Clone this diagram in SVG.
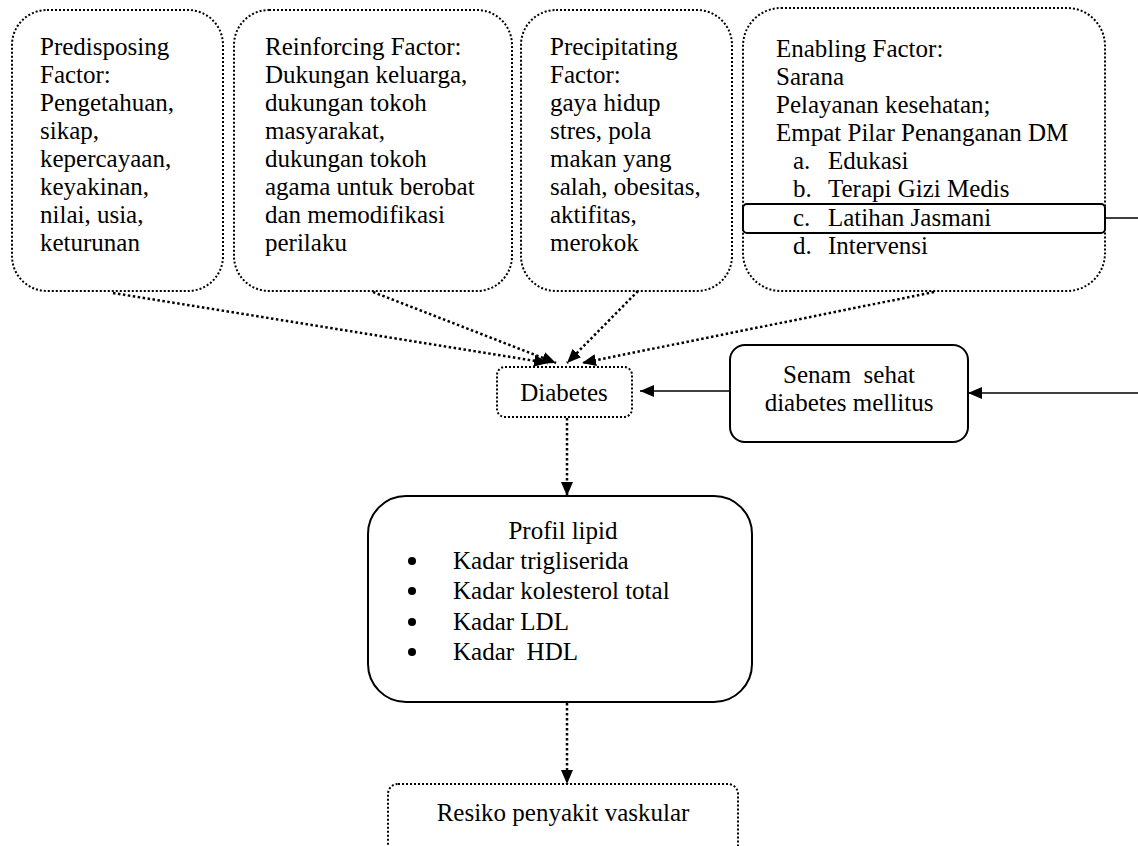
<svg xmlns="http://www.w3.org/2000/svg" width="1138" height="846" viewBox="0 0 1138 846">
  <style>
    text { font-family: "Liberation Serif", "Times New Roman", serif; font-size: 25px; fill: #000; }
    .mid { text-anchor: middle; }
    .dotted { fill: #fff; stroke: #000; stroke-width: 2; stroke-dasharray: 2 2; }
    .solid { fill: #fff; stroke: #000; stroke-width: 2; }
    .frame { fill: none; stroke: #000; stroke-width: 2; }
    .dline { fill: none; stroke: #000; stroke-width: 2.5; stroke-dasharray: 2.5 2.5; }
    .line { fill: none; stroke: #000; stroke-width: 1.5; }
  </style>
  <defs>
    <marker id="arrow" viewBox="0 0 14 12" refX="14" refY="6" markerWidth="14" markerHeight="12" markerUnits="userSpaceOnUse" orient="auto">
      <path d="M0,0 L14,6 L0,12 z" fill="#000"/>
    </marker>
    <marker id="arrowSolid" viewBox="0 0 14 12" refX="14" refY="6" markerWidth="14" markerHeight="12" markerUnits="userSpaceOnUse" orient="auto">
      <path d="M0,0 L14,6 L0,12 z" fill="#000"/>
    </marker>
  </defs>
  <rect width="1138" height="846" fill="#fff"/>

  <!-- Factor boxes -->
  <g id="predisposing">
    <rect class="dotted" x="12" y="10" width="211" height="281" rx="35"/>
    <text x="40" y="55">Predisposing</text>
    <text x="40" y="83">Factor:</text>
    <text x="40" y="111">Pengetahuan,</text>
    <text x="40" y="139">sikap,</text>
    <text x="40" y="167">kepercayaan,</text>
    <text x="40" y="195">keyakinan,</text>
    <text x="40" y="223">nilai, usia,</text>
    <text x="40" y="251">keturunan</text>
  </g>

  <g id="reinforcing">
    <rect class="dotted" x="234" y="10" width="278" height="281" rx="35"/>
    <text x="265" y="55">Reinforcing Factor:</text>
    <text x="265" y="83">Dukungan keluarga,</text>
    <text x="265" y="111">dukungan tokoh</text>
    <text x="265" y="139">masyarakat,</text>
    <text x="265" y="167">dukungan tokoh</text>
    <text x="265" y="195">agama untuk berobat</text>
    <text x="265" y="223">dan memodifikasi</text>
    <text x="265" y="251">perilaku</text>
  </g>

  <g id="precipitating">
    <rect class="dotted" x="521" y="10" width="211" height="281" rx="35"/>
    <text x="550" y="55">Precipitating</text>
    <text x="550" y="83">Factor:</text>
    <text x="550" y="111">gaya hidup</text>
    <text x="550" y="139">stres, pola</text>
    <text x="550" y="167">makan yang</text>
    <text x="550" y="195">salah, obesitas,</text>
    <text x="550" y="223">aktifitas,</text>
    <text x="550" y="251">merokok</text>
  </g>

  <g id="enabling">
    <rect class="dotted" x="743" y="8" width="362" height="283" rx="38"/>
    <text x="776" y="57">Enabling Factor:</text>
    <text x="776" y="85">Sarana</text>
    <text x="776" y="113">Pelayanan kesehatan;</text>
    <text x="776" y="141">Empat Pilar Penanganan DM</text>
    <text x="793" y="169">a.</text><text x="828" y="169">Edukasi</text>
    <text x="793" y="197">b.</text><text x="828" y="197">Terapi Gizi Medis</text>
    <rect id="latihan" class="frame" x="743" y="204" width="362" height="29" rx="4"/>
    <text x="793" y="226">c.</text><text x="828" y="226">Latihan Jasmani</text>
    <text x="793" y="254">d.</text><text x="828" y="254">Intervensi</text>
  </g>

  <!-- Central chain -->
  <g id="diabetes">
    <rect class="dotted" x="497" y="367" width="135" height="50" rx="8"/>
    <text class="mid" x="564" y="401">Diabetes</text>
  </g>

  <g id="senam">
    <rect class="solid" x="730" y="345" width="238" height="97" rx="15"/>
    <text class="mid" x="849" y="383">Senam&#160; sehat</text>
    <text class="mid" x="849" y="411">diabetes mellitus</text>
  </g>

  <g id="profil">
    <rect class="solid" x="368" y="496" width="384" height="206" rx="38"/>
    <text class="mid" x="563" y="539">Profil lipid</text>
    <circle cx="412" cy="561" r="4"/>
    <text x="453" y="569">Kadar trigliserida</text>
    <circle cx="412" cy="591" r="4"/>
    <text x="453" y="599">Kadar kolesterol total</text>
    <circle cx="412" cy="622" r="4"/>
    <text x="453" y="630">Kadar LDL</text>
    <circle cx="412" cy="652" r="4"/>
    <text x="453" y="660">Kadar&#160; HDL</text>
  </g>

  <g id="resiko">
    <rect class="dotted" x="388" y="784" width="350" height="90" rx="10"/>
    <text class="mid" x="563" y="821">Resiko penyakit vaskular</text>
  </g>

  <!-- Connectors -->
  <g id="connectors">
    <line class="dline" x1="113" y1="293" x2="548" y2="363" marker-end="url(#arrow)"/>
    <line class="dline" x1="373" y1="292" x2="556" y2="363" marker-end="url(#arrow)"/>
    <line class="dline" x1="638" y1="291" x2="567" y2="363" marker-end="url(#arrow)"/>
    <line class="dline" x1="934" y1="292" x2="582" y2="363" marker-end="url(#arrow)"/>
    <line class="dline" x1="567" y1="418" x2="567" y2="496" marker-end="url(#arrow)"/>
    <line class="dline" x1="567" y1="703" x2="567" y2="784" marker-end="url(#arrow)"/>
    <line class="line" x1="730" y1="391" x2="640" y2="391" marker-end="url(#arrowSolid)"/>
    <line class="line" x1="1138" y1="393" x2="968" y2="393" marker-end="url(#arrowSolid)"/>
    <line class="line" x1="1105" y1="218" x2="1138" y2="218"/>
  </g>
</svg>
